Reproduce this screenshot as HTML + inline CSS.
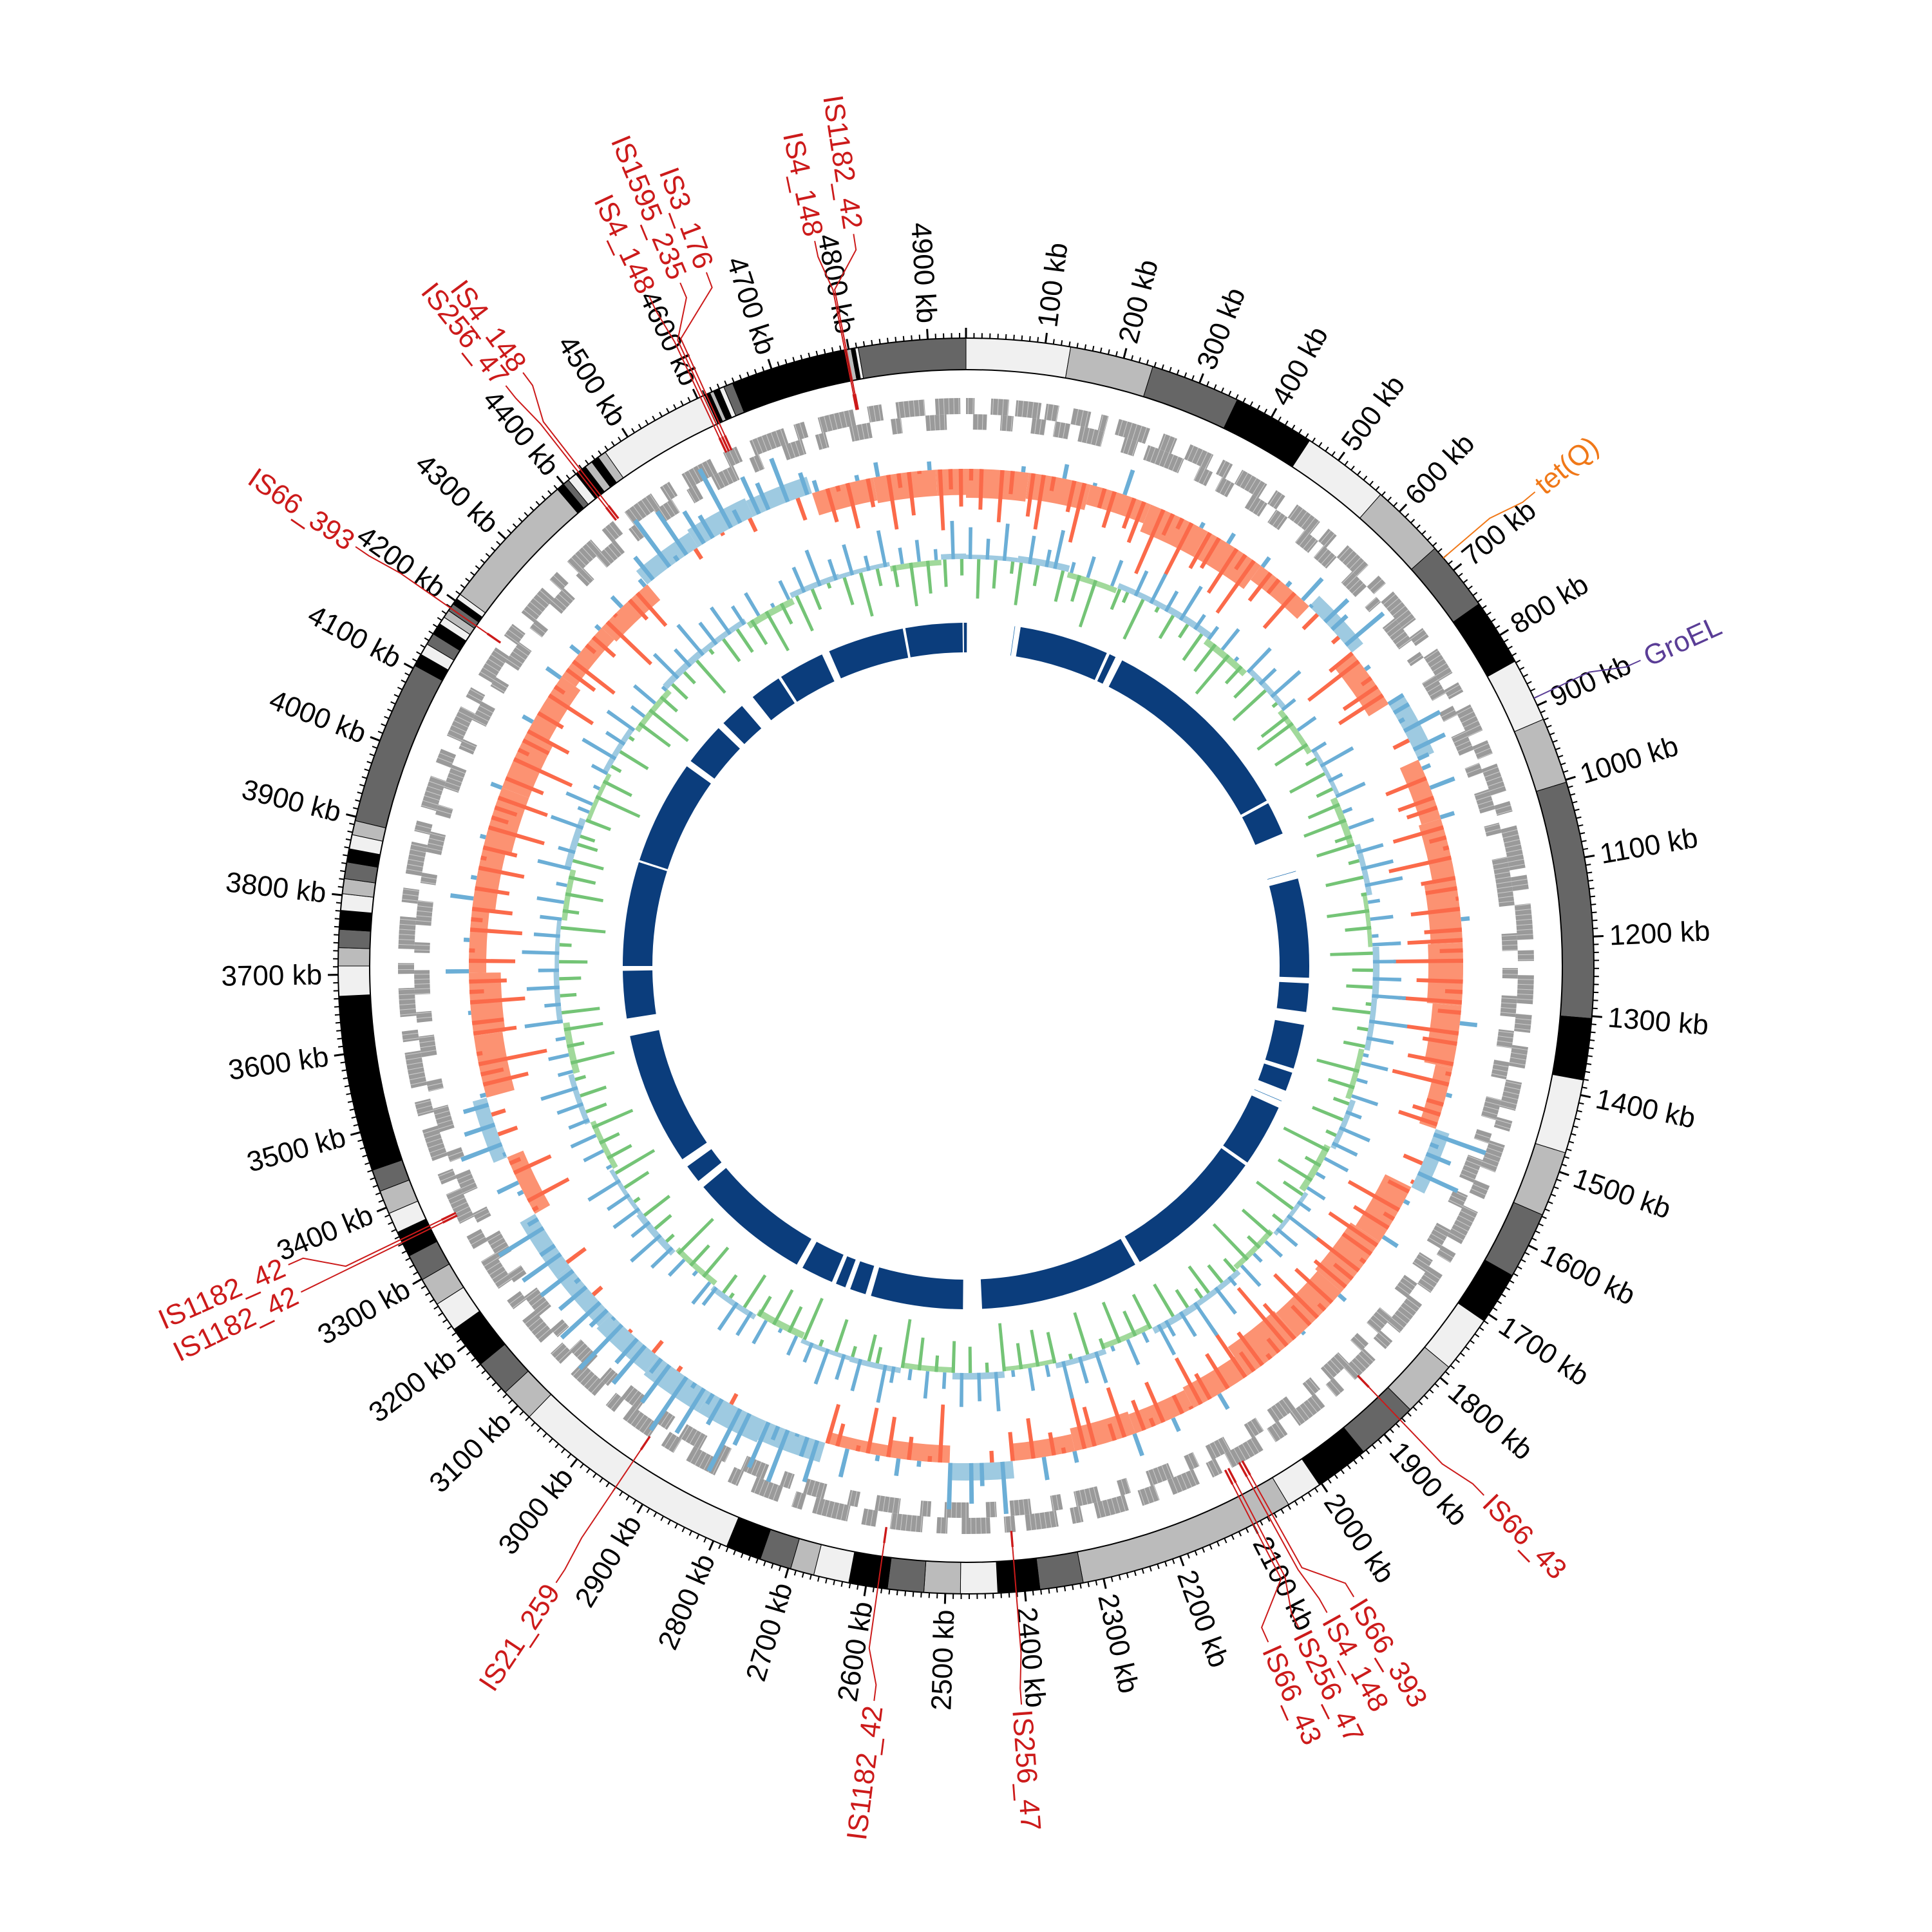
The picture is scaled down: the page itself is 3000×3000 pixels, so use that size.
<!DOCTYPE html>
<html><head><meta charset="utf-8"><title>Circular genome map</title>
<style>
html,body{margin:0;padding:0;background:#fff;}
svg{display:block;}
text{font-family:"Liberation Sans",sans-serif;}
</style></head>
<body>
<svg id="chart" xmlns="http://www.w3.org/2000/svg" width="3000" height="3000" viewBox="0 0 3000 3000">
<rect x="0" y="0" width="3000" height="3000" fill="#ffffff"/>
<g id="g-bands"></g>
<g id="g-ticks"></g>
<g id="g-genes"></g>
<g id="g-skew"></g>
<g id="g-gc"></g>
<g id="g-navy"></g>
<g id="g-labels"></g>
</svg>
<script>
const TOTAL = 4948;
const bandStarts = [0,132,238,352,456,568,664,753,838,919,1003,1303,1381,1475,1558,1643,1710,1783,1855,1934,2003,2049,2326,2381,2434,2481,2527,2573,2622,2667,2697,2737,2782,3080,3123,3170,3225,3263,3299,3333,3366,3392,3422,3450,3673,3711,3734,3757,3781,3802,3821,3842,3859,3877,3895,4104,4120,4135,4150,4165,4175,4185,4195,4203,4210,4390,4400,4408,4420,4435,4445,4455,4466,4610,4617,4622,4630,4636,4648,4797,4803,4808,4812];
const bandShades = ["L","G","D","B","L","G","D","B","L","G","D","B","L","G","D","B","L","G","D","B","L","G","D","B","L","G","D","B","L","G","D","B","L","G","D","B","L","G","D","B","L","G","D","B","L","G","D","B","L","G","D","B","L","G","D","B","L","D","B","L","G","D","B","L","G","B","D","L","B","G","B","G","L","B","G","B","L","D","B","G","B","L","D"];
const fwdGenes = [[0,12],[35,60],[70,105],[112,130],[150,175],[190,200],[215,260],[280,300],[320,355],[370,385],[400,440],[455,470],[490,530],[545,560],[580,620],[640,655],[670,720],[735,750],[770,810],[825,840],[860,900],[915,935],[950,990],[1005,1020],[1040,1100],[1110,1130],[1150,1200],[1215,1230],[1250,1290],[1305,1330],[1350,1380],[1400,1440],[1455,1470],[1490,1530],[1550,1570],[1590,1640],[1655,1670],[1690,1720],[1740,1790],[1805,1820],[1840,1880],[1900,1915],[1935,1980],[2000,2020],[2040,2090],[2105,2120],[2140,2180],[2200,2225],[2245,2290],[2310,2325],[2345,2390],[2405,2420],[2440,2480],[2500,2515],[2535,2580],[2600,2620],[2640,2690],[2705,2720],[2740,2780],[2800,2815],[2835,2880],[2900,2920],[2940,2985],[3000,3015],[3035,3080],[3100,3120],[3140,3180],[3200,3215],[3235,3280],[3300,3320],[3340,3385],[3400,3415],[3435,3480],[3500,3520],[3540,3590],[3605,3620],[3640,3680],[3700,3715],[3735,3780],[3800,3820],[3840,3885],[3900,3915],[3935,3980],[4000,4020],[4040,4085],[4100,4115],[4135,4180],[4200,4220],[4240,4285],[4300,4315],[4335,4380],[4400,4420],[4440,4485],[4500,4515],[4535,4580],[4600,4620],[4640,4690],[4705,4720],[4740,4790],[4810,4830],[4850,4890],[4905,4940]];
const revGenes = [[10,30],[50,68],[95,115],[128,150],[165,200],[230,250],[265,320],[345,365],[380,400],[430,455],[470,490],[520,545],[555,580],[610,640],[660,670],[700,740],[760,770],[800,830],[850,865],[890,920],[940,955],[980,1010],[1030,1045],[1080,1150],[1190,1215],[1240,1255],[1280,1310],[1330,1355],[1375,1400],[1430,1460],[1480,1495],[1520,1555],[1575,1595],[1630,1660],[1680,1700],[1720,1745],[1780,1810],[1830,1845],[1870,1905],[1925,1940],[1970,2005],[2025,2045],[2080,2110],[2130,2145],[2170,2205],[2235,2250],[2280,2315],[2335,2350],[2380,2410],[2430,2445],[2470,2505],[2525,2540],[2570,2605],[2630,2645],[2680,2710],[2730,2745],[2770,2805],[2830,2845],[2870,2905],[2925,2945],[2975,3005],[3030,3045],[3070,3105],[3130,3145],[3170,3205],[3230,3245],[3270,3305],[3330,3345],[3375,3405],[3425,3440],[3470,3505],[3530,3545],[3580,3610],[3630,3645],[3670,3705],[3730,3745],[3770,3805],[3830,3845],[3875,3905],[3930,3945],[3970,4005],[4030,4045],[4075,4105],[4130,4145],[4170,4205],[4230,4245],[4275,4305],[4330,4345],[4370,4405],[4430,4445],[4475,4505],[4530,4545],[4570,4605],[4630,4645],[4680,4710],[4730,4745],[4780,4810],[4840,4855],[4890,4920]];
const skewTrend = [-0.5,-0.45,-0.35,-0.5,-0.5,-0.3,0.25,-0.4,0.3,-0.35,-0.4,-0.55,-0.6,-0.5,-0.3,0.25,-0.5,-0.6,-0.55,-0.6,-0.4,-0.35,-0.4,-0.3,0.3,-0.3,-0.2,0.35,0.4,0.4,0.35,0.3,0.3,-0.3,0.25,-0.5,-0.55,-0.3,-0.4,-0.5,-0.5,-0.4,-0.3,-0.35,0.3,0.35,0.3,-0.4,-0.45,-0.45];
const skewDev = [3,-2,5,-4,1,6,-3,-5,2,7,-1,-6,4,0,-3,8,-2,-4,5,-7,1,3,-5,6,-2,-1,7,-4,2,-6,
5,-3,0,4,-5,8,-2,-6,3,1,-4,6,-1,-7,5,2,-3,-5,7,0,-2,4,-6,3,-1,5,-4,8,-3,-2,
6,-5,1,3,-7,4,-2,0,5,-3,7,-1,-4,2,-6,6,-2,3,-5,1,8,-4,-1,5,-3,2,-7,4,0,-2,
-4,7,-1,2,-6,5,-3,1,6,-5,3,-2,8,-4,0,5,-6,2,-1,7,-3,4,-5,1,6,-2,-7,3,5,-1,
2,-6,4,-3,7,-1,-5,3,0,6,-4,2,-2,8,-5,1,4,-3,-6,5,2,-1,7,-4,3,-2,6,-5,1,4,
-3,5,-7,2,4,-1,6,-4,3,-6,1,7,-2,-5,4,0,-3,6,-1,5,-4,2,8,-6,1,-2,5,-3,7,-5,
4,-1,-6,5,2,-4,7,-3,1,6,-5,3,-2,4,-7,5,0,-3,6,-1,2,-5,4,7,-4,1,-2,5,-6,3,
-5,2,6,-3,1,-7,4,5,-2,0,6,-4,3,-1,7,-5,2,4,-6,1,-3,8,-2,5,-4,3,-1,6,-5,2,
1,-4,7,-2,5,-6,3,0,-3,6,-1,4,-5,2,7,-3,-6,5,1,-2,4,-7,3,6,-1,-4,5,2,-3,7,
-2,6,-5,3,1,-4,8,-1,-6,4,2,-3,5,-7,1,6,-2,3,-4,5,-1,7,-5,2,-3,4,6,-6,1,-2];
const gcTrend = [0.08,0.12,-0.1,0.1,0.12,-0.12,0.1,-0.1,0.08,-0.12,0.1,-0.08,0.12,0.1,-0.1,0.1,-0.12,0.08,-0.1,0.1,0.12,-0.1,0.1,-0.08,0.12,-0.1,0.1,0.08,-0.12,0.1,-0.1,0.12,0.08,-0.1,0.1,-0.12,0.1,0.08,-0.1,0.12,-0.08,0.1,-0.1,0.12,0.1,-0.12,0.1,0.08,-0.1,0.1];
const gcDev = [5,-8,3,-6,6,-3,-9,4,-5,2,6,-7,3,-4,5,-8,1,6,-5,-3,4,-9,5,-2,3,-6,6,-4,2,-7,
4,-5,6,-8,2,-3,5,-6,3,-9,6,-2,4,-5,-7,5,1,-6,4,-3,6,-8,2,-4,5,-5,3,-7,6,-2,
-6,4,-3,5,-8,6,-2,3,-7,5,-4,2,6,-9,3,-5,4,-6,5,-2,-8,6,-3,4,-5,2,6,-7,3,-4,
6,-4,2,-7,5,-3,4,-8,6,-2,3,-6,5,-5,2,-9,6,-3,4,-6,5,-2,3,-8,6,-4,1,-5,5,-7,
-3,6,-5,4,-8,2,5,-6,3,-4,6,-7,2,-3,5,-9,4,-2,6,-5,3,-6,5,-4,2,-8,6,-3,4,-6,
5,-7,4,-2,6,-5,3,-8,2,6,-4,-6,5,-3,4,-7,6,-2,3,-9,5,-4,2,-6,6,-3,4,-8,5,-2,
-5,3,6,-6,2,-4,5,-8,4,-3,6,-5,3,-7,5,-2,4,-6,6,-9,2,-4,5,-3,6,-7,3,-5,4,-6,
6,-3,4,-7,5,-2,3,-6,6,-8,2,-4,5,-5,3,-6,6,-3,4,-9,5,-2,6,-6,3,-4,5,-7,2,-5,
-4,5,-6,3,6,-8,2,-5,4,-3,6,-7,3,-2,5,-6,4,-8,6,-3,2,-5,5,-4,3,-9,6,-2,4,-6,
5,-6,3,-4,6,-7,2,-3,5,-8,4,-5,6,-2,3,-6,5,-9,2,-4,6,-3,4,-7,5,-5,3,-6,6,-4];
const navySegs = [[126,333],[340,355],[372,841],[848,925],[1034,1264],[1277,1343],[1373,1476],[1486,1530],[1572,1717],[1725,2056],[2068,2437],[2481,2695],[2708,2745],[2757,2780],[2790,2865],[2880,3160],[3178,3220],[3240,3549],[3590,3700],[3711,3953],[3958,4200],[4215,4314],[4330,4388],[4420,4493],[4500,4607],[4625,4802],[4808,4940],[4943,4948],[0,2]];
const navyThin = [112,1016,1555];
const labelNames = ["IS1182_42","IS4_148","IS3_176","IS1595_235","IS4_148","IS4_148","IS256_47","IS66_393","IS1182_42","IS1182_42","IS21_259","IS1182_42","IS256_47","IS66_393","IS4_148","IS256_47","IS66_43","IS66_43","tet(Q)","GroEL"];
const labelMarkKb = [4797,4795,4612,4608,4604,4428,4424,4189,3356,3352,2940,2585,2411,2073,2078,2095,2100,1873,680,890];
const labelTextKb = [4828,4786,4666,4636,4600,4443,4420,4185,3384,3352,2936,2572,2415,2040,2073,2107,2143,1864,690,902];
const labelKinds = ["is","is","is","is","is","is","is","is","is","is","is","is","is","is","is","is","is","is","gene","gene"];

const NS = "http://www.w3.org/2000/svg";
const CX = 1500, CY = 1500;
function ang(kb){ return kb / TOTAL * 2 * Math.PI; }
function deg(kb){ return kb / TOTAL * 360; }
function P(r, kb){ const a = ang(kb); return [CX + r * Math.sin(a), CY - r * Math.cos(a)]; }
function sector(ra, rb, k0, k1){
  const r0 = Math.min(ra, rb), r1 = Math.max(ra, rb);
  const a = P(r1, k0), b = P(r1, k1), c = P(r0, k1), d = P(r0, k0);
  const large = (k1 - k0) / TOTAL > 0.5 ? 1 : 0;
  return "M" + a[0].toFixed(2) + "," + a[1].toFixed(2) + "A" + r1 + "," + r1 + " 0 " + large + " 1 " + b[0].toFixed(2) + "," + b[1].toFixed(2) +
    "L" + c[0].toFixed(2) + "," + c[1].toFixed(2) + "A" + r0 + "," + r0 + " 0 " + large + " 0 " + d[0].toFixed(2) + "," + d[1].toFixed(2) + "Z";
}
function mk(parent, tag, attrs){
  const el = document.createElementNS(NS, tag);
  for (const k in attrs) el.setAttribute(k, attrs[k]);
  parent.appendChild(el);
  return el;
}
const shadeColor = {L:"#f0f0f0", G:"#bbbbbb", D:"#666666", B:"#000000"};

const gB = document.getElementById("g-bands");
const R_IN = 926, R_OUT = 975;
bandStarts.forEach((s, i) => {
  const e = i + 1 < bandStarts.length ? bandStarts[i + 1] : TOTAL;
  const el = mk(gB, "path", {d: sector(R_IN, R_OUT, s, e), fill: shadeColor[bandShades[i]], stroke: "#000", "stroke-width": 1});
  
  
});
[R_IN, R_OUT].forEach(r => {
  const el = mk(gB, "circle", {cx: CX, cy: CY, r: r, fill: "none", stroke: "#000", "stroke-width": 2});
  
  
});

const gT = document.getElementById("g-ticks");
for (let k = 0; k < TOTAL; k += 10) {
  const major = k % 100 === 0;
  const a = P(R_OUT, k), b = P(R_OUT + (major ? 16 : 8), k);
  const el = mk(gT, "line", {x1: a[0], y1: a[1], x2: b[0], y2: b[1], stroke: "#000", "stroke-width": major ? 3 : 2});
  
  
  if (major && k > 0) {
    const p = P(1000, k), th = deg(k);
    const right = th < 180;
    const t = mk(gT, "text", {x: p[0], y: p[1], "font-size": 44, fill: "#000", "dominant-baseline": "central",
      "text-anchor": right ? "start" : "end",
      transform: "rotate(" + (right ? th - 90 : th + 90) + " " + p[0] + " " + p[1] + ")"});
    t.textContent = k + " kb";
    
    
  }
}

const gG = document.getElementById("g-genes");
fwdGenes.forEach(g => {
  const el = mk(gG, "path", {d: sector(857, 882, g[0], g[1]), fill: "#9a9a9a"});
  
  
});
revGenes.forEach(g => {
  const el = mk(gG, "path", {d: sector(833, 857, g[0], g[1]), fill: "#9a9a9a"});
  
  
});
for (let k = 3; k < TOTAL; k += 7) {
  const a = P(833, k), b = P(882, k);
  const el = mk(gG, "line", {x1: a[0], y1: a[1], x2: b[0], y2: b[1], stroke: "#ffffff", "stroke-width": 1, opacity: 0.5});
  
  
}

function histTrack(gid, trend, dev, base, scale, posFill, negFill, posLine, negLine, nm){
  const g = document.getElementById(gid);
  const step = 100;
  trend.forEach((v, i) => {
    const s = i * step, e = Math.min(TOTAL, (i + 1) * step);
    const el = mk(g, "path", {d: sector(base, base + v * scale, s, e), fill: v >= 0 ? posFill : negFill});
    
    
  });
  const bw = TOTAL / dev.length;
  dev.forEach((d, i) => {
    const c = (i + 0.5) * bw;
    const v = trend[Math.min(trend.length - 1, Math.floor(c / step))] + d / 10;
    const el = mk(g, "path", {d: sector(base, base + v * scale, i * bw + bw * 0.3, i * bw + bw * 0.7), fill: v >= 0 ? posLine : negLine});
    
    
  });
}
histTrack("g-skew", skewTrend, skewDev, 772, 90, "#9ecae1", "#fc9272", "#6baed6", "#fb6a4a", "skew");
histTrack("g-gc", gcTrend, gcDev, 632, 85, "#9ecae1", "#a1d99b", "#6baed6", "#74c476", "gc");

const gN = document.getElementById("g-navy");
navySegs.forEach(s => {
  const el = mk(gN, "path", {d: sector(487, 533, s[0], s[1]), fill: "#0b3d7c"});
  
  
});
navyThin.forEach(k => {
  const el = mk(gN, "path", {d: sector(487, 533, k, k + 1.2), fill: "#1f6fb2"});
  
  
});

const gL = document.getElementById("g-labels");
const kindColor = {is: "#cc1a1a"};
labelNames.forEach((name, i) => {
  const m = labelMarkKb[i], l = labelTextKb[i];
  let col = kindColor.is;
  if (name === "tet(Q)") col = "#f07818";
  if (name === "GroEL") col = "#5a3d96";
  if (labelKinds[i] === "is") {
    const mkEl = mk(gL, "path", {d: sector(880, 905, m - 1.5, m + 1.5), fill: col});
    
    
  }
  const p1 = P(labelKinds[i] === "is" ? 905 : 975, m), p2 = P(1070, m), p3 = P(1125, l), p4 = P(1150, l);
  const ln = mk(gL, "polyline", {points: [p1, p2, p3, p4].map(p => p[0].toFixed(1) + "," + p[1].toFixed(1)).join(" "), fill: "none", stroke: col, "stroke-width": 2});
  
  
  const p = P(1158, l), th = deg(l), right = th < 180;
  const t = mk(gL, "text", {x: p[0], y: p[1], "font-size": 44, fill: col, "dominant-baseline": "central",
    "text-anchor": right ? "start" : "end",
    transform: "rotate(" + (right ? th - 90 : th + 90) + " " + p[0] + " " + p[1] + ")"});
  t.textContent = name;
  
  
});
</script>
</body></html>
